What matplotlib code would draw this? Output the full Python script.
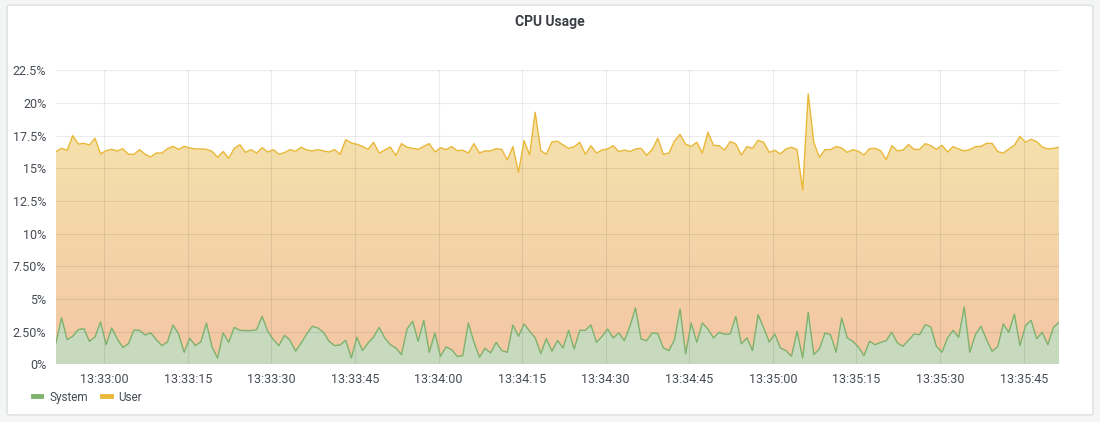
import matplotlib
matplotlib.use("Agg")
import matplotlib.pyplot as plt
import matplotlib.dates as mdates
import numpy as np
from matplotlib.colors import LinearSegmentedColormap
from matplotlib.lines import Line2D
from matplotlib.patches import FancyBboxPatch

plt.rcParams['font.family'] = ['Roboto', 'DejaVu Sans']

# one sample per second, starting 13:32:51
start = np.datetime64('2021-01-01T13:32:51.340')
n_samples = 181

system = [
    1.63, 3.55, 1.89, 2.14, 2.65, 2.73, 1.76, 2.09, 3.24, 1.50, 2.78, 1.94, 1.28, 1.58, 2.63, 2.60,
    2.24, 2.40, 1.89, 1.43, 1.71, 3.01, 2.32, 0.92, 1.99, 1.43, 1.71, 3.16, 1.33, 0.48, 2.40,
    1.68, 2.83, 2.60, 2.58, 2.58, 2.65, 3.67, 2.53, 1.89, 1.43, 2.22, 1.84, 1.00, 1.63, 2.32,
    2.91, 2.78, 2.45, 1.76, 1.43, 1.48, 1.84, 0.48, 2.07, 1.05, 1.63, 2.09, 2.83, 2.02, 1.50,
    1.25, 0.74, 2.70, 3.29, 1.76, 3.37, 0.92, 2.40, 0.61, 1.33, 1.12, 0.61, 0.66, 3.16, 1.71,
    0.54, 1.22, 0.87, 1.68, 1.05, 0.92, 3.01, 2.14, 3.09, 2.53, 2.02, 0.82, 1.96, 1.00, 1.82,
    1.25, 2.60, 1.17, 2.60, 2.60, 3.01, 1.68, 2.14, 2.70, 2.02, 2.40, 1.81, 2.91, 4.31, 1.94,
    1.81, 2.40, 2.35, 1.25, 1.05, 1.89, 4.23, 0.79, 3.16, 1.68, 3.16, 2.70, 2.02, 2.45, 2.30,
    2.32, 3.67, 1.56, 2.02, 1.05, 3.80, 2.78, 1.71, 2.32, 1.25, 1.05, 0.61, 2.53, 0.48, 3.98,
    0.74, 1.17, 2.40, 2.27, 0.92, 3.55, 2.02, 1.76, 1.33, 0.66, 1.76, 1.50, 1.68, 1.81, 2.46,
    1.63, 1.38, 1.84, 2.32, 2.27, 3.04, 2.86, 1.38, 0.92, 2.02, 2.60, 2.07, 4.39, 0.92, 2.27,
    2.91, 1.89, 1.00, 1.33, 3.09, 2.45, 3.85, 1.43, 2.96, 3.37, 1.96, 2.45, 1.50, 2.83, 3.21,
]

user = [
    16.28, 16.53, 16.38, 17.50, 16.86, 16.91, 16.79, 17.30, 16.10, 16.35, 16.45, 16.33, 16.50,
    16.07, 16.07, 16.43, 16.07, 15.87, 16.17, 16.17, 16.50, 16.68, 16.45, 16.68, 16.56, 16.48,
    16.48, 16.45, 16.30, 15.84, 16.28,
    15.77, 16.53, 16.81, 16.22, 16.43, 16.17, 16.58, 16.25, 16.43, 16.07, 16.20, 16.43, 16.30,
    16.61, 16.40, 16.33, 16.43, 16.33, 16.25, 16.43, 16.07, 17.19, 16.94, 16.84, 16.68, 16.45,
    16.99, 16.17, 16.40, 16.63,
    15.97, 16.89, 16.61, 16.53, 16.45, 16.68, 16.89, 16.25, 16.58, 16.43, 16.66, 16.35, 16.38,
    16.17, 16.89, 16.17, 16.33, 16.33, 16.50, 16.45, 15.64, 16.66, 14.69, 17.12, 16.02, 19.29,
    16.35, 16.07, 17.02, 17.07,
    16.79, 16.53, 16.66, 16.99, 16.07, 16.73, 16.17, 16.40, 16.48, 16.73, 16.28, 16.40, 16.28,
    16.48, 16.53, 16.00, 16.43, 17.30, 16.07, 16.17, 17.09, 17.60, 16.84, 16.68, 16.99, 16.17,
    17.76, 16.76, 16.73, 16.40,
    17.05, 16.86, 16.02, 16.66, 16.53, 17.14, 16.99, 16.22, 16.38, 16.10, 16.48, 16.61, 16.43,
    13.34, 20.69, 16.99, 15.84, 16.43, 16.43, 16.66, 16.56, 16.22, 16.43, 16.30, 16.02, 16.50,
    16.53, 16.35, 15.66, 16.73,
    16.33, 16.40, 16.81, 16.45, 16.45, 16.89, 16.73, 16.45, 16.76, 16.25, 16.66, 16.48, 16.33,
    16.43, 16.66, 16.68, 16.91, 16.91, 16.28, 16.17, 16.48, 16.76, 17.45, 16.99, 17.22, 17.04,
    16.63, 16.48, 16.53, 16.61,
]

y_ticks = [0, 2.5, 5, 7.5, 10, 12.5, 15, 17.5, 20, 22.5]
y_labels = ['0%', '2.50%', '5%', '7.50%', '10%', '12.5%', '15%', '17.5%', '20%', '22.5%']

times = start + np.arange(n_samples) * np.timedelta64(1, 's')
x = mdates.date2num(times.astype('datetime64[ms]').astype(object))

fig = plt.figure(figsize=(11, 4.22), dpi=100, facecolor='#f4f5f5')
panel = FancyBboxPatch((0.0064, 0.0166), 0.9872, 0.9714,
                       boxstyle='round,pad=0,rounding_size=0.004',
                       transform=fig.transFigure, facecolor='white',
                       edgecolor='#dcdee2', lw=1, zorder=-1)
fig.patches.append(panel)

ax = fig.add_axes([0.0509, 0.1367, 0.9118, 0.6967])
ax.set_facecolor('none')

# user area with vertical gradient
poly = ax.fill_between(x, 0, user, facecolor='none', edgecolor='none')
cmap = LinearSegmentedColormap.from_list('usergrad', ['#f3c6a4', '#f4d6a9', '#f5e6ae'])
grad = np.linspace(0, 1, 256).reshape(-1, 1)
im = ax.imshow(grad, aspect='auto', cmap=cmap, origin='lower',
               extent=[x[0], x[-1], 0, 20.7], zorder=1)
im.set_clip_path(poly.get_paths()[0], transform=ax.transData)
ax.plot(x, user, color='#eab839', lw=1.0, zorder=3)

ax.fill_between(x, 0, system, facecolor='#c8dabe', edgecolor='none', zorder=2)
ax.plot(x, system, color='#7eb26d', lw=1.0, zorder=3)

ax.set_xlim(x[0], x[-1])
ax.set_ylim(0, 22.5)
ax.set_yticks(y_ticks)
ax.set_yticklabels(y_labels)
ax.xaxis.set_major_locator(mdates.SecondLocator(bysecond=[0, 15, 30, 45]))
ax.xaxis.set_major_formatter(mdates.DateFormatter('%H:%M:%S'))

ax.grid(True, color='#000000', alpha=0.08, lw=0.8)
ax.set_axisbelow(False)
for s in ax.spines.values():
    s.set_visible(False)
ax.tick_params(axis='both', length=0, labelsize=9, colors='#464c54')
ax.tick_params(axis='y', pad=7)
ax.tick_params(axis='x', pad=6)

fig.text(0.5, 0.948, 'CPU Usage', ha='center', va='center',
         fontsize=10, fontweight='bold', color='#3b3f45')

handles = [Line2D([], [], color='#7eb26d', lw=3.5),
           Line2D([], [], color='#eab839', lw=3.5)]
fig.legend(handles, ['System', 'User'], loc='center left',
           bbox_to_anchor=(0.020, 0.059), ncol=2, frameon=False,
           fontsize=8.5, handlelength=0.75, handletextpad=0.65,
           columnspacing=1.2, labelcolor='#464c54')

fig.savefig('out.png', dpi=100, facecolor=fig.get_facecolor())
